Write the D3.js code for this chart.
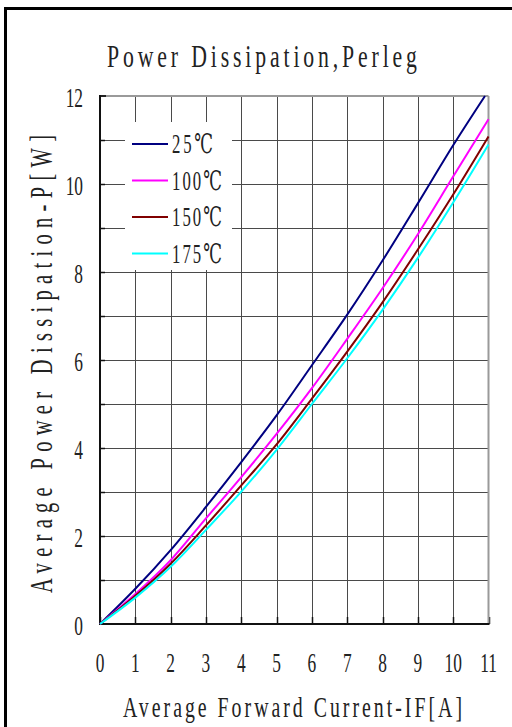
<!DOCTYPE html>
<html><head><meta charset="utf-8">
<script src="https://cdn.jsdelivr.net/npm/d3@7"></script>
<style>
html,body{margin:0;padding:0;background:#fff;}
svg{display:block;}
text{font-family:"Liberation Serif","DejaVu Serif",serif;fill:#222;}
</style></head>
<body>
<script>
// ---- data ----
const titleText = "Power Dissipation,Perleg";
const xTitle = "Average Forward Current-IF[A]";
const yTitle = "Average Power Dissipation-P[W]";
const xTicks = [0,1,2,3,4,5,6,7,8,9,10,11];
const yTickLabels = [0,2,4,6,8,10,12];
const yGrid = [1,2,3,4,5,6,7,8,9,10,11];
const current = [0,1,2,3,4,5,6,7,8,9,10,11];
const current25 = [0,1,2,3,4,5,6,7,8,9,10,10.9];
const p25  = [0, 0.80, 1.68, 2.66, 3.68, 4.74, 5.88, 7.03, 8.26, 9.56, 10.88, 12.00];
const p100 = [0, 0.68, 1.45, 2.40, 3.34, 4.32, 5.36, 6.48, 7.63, 8.86, 10.17, 11.47];
const p150 = [0, 0.64, 1.37, 2.24, 3.15, 4.08, 5.12, 6.19, 7.31, 8.51, 9.76, 11.08];
const p175 = [0, 0.60, 1.30, 2.14, 3.01, 3.96, 5.00, 6.04, 7.14, 8.32, 9.58, 10.90];
const seriesNames = ["25℃","100℃","150℃","175℃"];
const seriesColors = ["#000080","#ff00ff","#800000","#00ffff"];

const series = [
  {name: seriesNames[0], color: seriesColors[0], xs: current25, ys: p25},
  {name: seriesNames[1], color: seriesColors[1], xs: current, ys: p100},
  {name: seriesNames[2], color: seriesColors[2], xs: current, ys: p150},
  {name: seriesNames[3], color: seriesColors[3], xs: current, ys: p175}
];

const W = 512, H = 727;
const svg = d3.select("body").append("svg").attr("width", W).attr("height", H);
svg.append("rect").attr("width", W).attr("height", H).attr("fill", "#fff");

// outer frame
svg.append("rect").attr("x", 5.5).attr("y", 8.5).attr("width", 530).attr("height", 740)
  .attr("fill", "none").attr("stroke", "#000").attr("stroke-width", 3);

const x = d3.scaleLinear().domain([0, 11]).range([100, 488.5]);
const y = d3.scaleLinear().domain([0, 12]).range([624, 96]);

// grid
const g = svg.append("g");
g.selectAll(".vg").data(xTicks.slice(1, -1)).enter().append("line")
  .attr("x1", d => Math.round(x(d)) + 0.5).attr("x2", d => Math.round(x(d)) + 0.5)
  .attr("y1", y(12)).attr("y2", y(0))
  .attr("stroke", "#4a4a4a").attr("stroke-width", 1);
g.selectAll(".hg").data(yGrid).enter().append("line")
  .attr("y1", d => Math.round(y(d)) + 0.5).attr("y2", d => Math.round(y(d)) + 0.5)
  .attr("x1", x(0)).attr("x2", x(11))
  .attr("stroke", "#4a4a4a").attr("stroke-width", 1);

// ticks on axes
g.selectAll(".bt").data(xTicks).enter().append("line")
  .attr("x1", d => Math.round(x(d)) + 0.5).attr("x2", d => Math.round(x(d)) + 0.5)
  .attr("y1", y(0) - 7).attr("y2", y(0))
  .attr("stroke", "#111").attr("stroke-width", 1.5);
g.selectAll(".lt").data(yGrid).enter().append("line")
  .attr("y1", d => Math.round(y(d)) + 0.5).attr("y2", d => Math.round(y(d)) + 0.5)
  .attr("x1", x(0)).attr("x2", x(0) + 5)
  .attr("stroke", "#111").attr("stroke-width", 1.5);

// plot border
svg.append("line").attr("x1", x(0)).attr("x2", x(11)).attr("y1", y(12)).attr("y2", y(12))
  .attr("stroke", "#9a9a9a").attr("stroke-width", 2);
svg.append("line").attr("x1", x(11)).attr("x2", x(11)).attr("y1", y(12)).attr("y2", y(0))
  .attr("stroke", "#9a9a9a").attr("stroke-width", 2);
svg.append("line").attr("x1", x(0)).attr("x2", x(0) + 6).attr("y1", y(12)).attr("y2", y(12))
  .attr("stroke", "#222").attr("stroke-width", 2);
svg.append("line").attr("x1", x(0)).attr("x2", x(0)).attr("y1", y(12) - 1).attr("y2", y(0) + 1)
  .attr("stroke", "#111").attr("stroke-width", 2);
svg.append("line").attr("x1", x(0) - 1).attr("x2", x(11) + 1).attr("y1", y(0)).attr("y2", y(0))
  .attr("stroke", "#111").attr("stroke-width", 2);

// legend background
svg.append("rect").attr("x", 125).attr("y", 122).attr("width", 107).attr("height", 148).attr("fill", "#fff");

// curves
const line = d3.line().x(d => x(d[0])).y(d => y(d[1])).curve(d3.curveCatmullRom.alpha(0.5));
svg.selectAll(".curve").data(series).enter().append("path")
  .attr("d", s => line(s.xs.map((v, i) => [v, s.ys[i]])))
  .attr("fill", "none").attr("stroke", s => s.color).attr("stroke-width", 2);

// condensed text helper: narrow glyphs, extra spacing to reach target width
function condText(parent, tx, ty, rot, size, width, s, str) {
  const t = parent.append("text")
    .attr("transform", `translate(${tx},${ty})` + (rot ? ` rotate(${rot})` : "") + ` scale(${s},1)`)
    .attr("font-size", size).text(str);
  if (width) t.attr("textLength", width / s).attr("lengthAdjust", "spacing");
  return t;
}

// legend
const lg = svg.append("g");
series.forEach((s, i) => {
  const ly = 144 + i * 36.5;
  lg.append("line").attr("x1", 132).attr("x2", 168).attr("y1", ly).attr("y2", ly)
    .attr("stroke", s.color).attr("stroke-width", 2);
  condText(lg, 172, ly + 9, 0, 27, s.name.length === 3 ? 41 : 50, 0.62, s.name);
});

// tick labels
const sx = 0.62;
svg.append("g").selectAll("text").data(xTicks).enter().append("text")
  .attr("transform", d => `translate(${x(d)},672) scale(${sx},1)`)
  .attr("text-anchor", "middle").attr("font-size", 28).text(d => d);
svg.append("g").selectAll("text").data(yTickLabels).enter().append("text")
  .attr("transform", d => `translate(83,${y(d) + 11}) scale(${sx},1)`)
  .attr("text-anchor", "end").attr("font-size", 28).text(d => d);

// titles
condText(svg, 107, 67, 0, 32, 310, 0.68, titleText);
condText(svg, 123, 717, 0, 30, 339, 0.66, xTitle);
condText(svg, 52, 593, -90, 31, 458, 0.66, yTitle);
</script>
</body></html>
